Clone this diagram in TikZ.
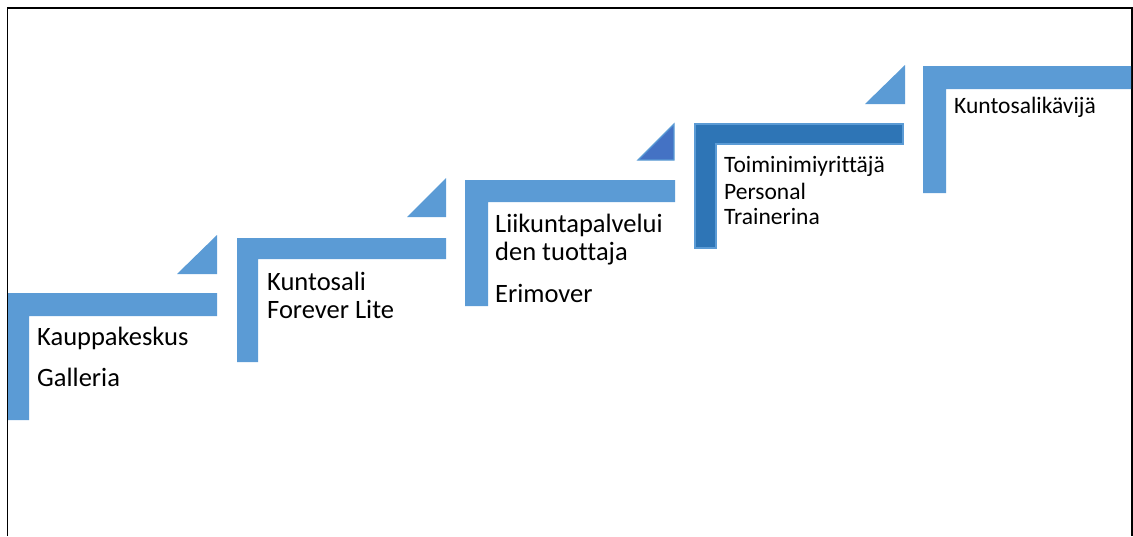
\documentclass[tikz,border=0pt]{standalone}
\usepackage{fontspec}
\setmainfont{Carlito}[Ligatures=NoCommon]
\usepackage{xcolor}
\usetikzlibrary{positioning}
\definecolor{steplight}{HTML}{5B9BD5}
\definecolor{stepdark}{HTML}{2E75B6}
\definecolor{stepmid}{HTML}{4472C4}

\begin{document}
\begin{tikzpicture}[
x=1pt, y=-1pt,
stepbar/.style={fill=steplight},
stepcorner/.style={fill=steplight},
steplabel/.style={
anchor=base west,
inner sep=0pt,
font=\fontsize{26.5}{28}\selectfont
},
smalllabel/.style={
steplabel,
font=\fontsize{23.5}{26}\selectfont
}
]

\useasboundingbox (0,0) rectangle (1133,536);
\draw[line width=1.6pt] (7.5,536) -- (7.5,8) -- (1132,8) -- (1132,536);

% steps
\fill[stepbar] (8,293) -- (217,293) -- (217,316) -- (29,316) -- (29,420) -- (8,420) -- cycle;
\fill[stepcorner] (177,274) -- (217,274) -- (217,235) -- cycle;

\fill[stepbar] (237,238) -- (446,238) -- (446,259) -- (258,259) -- (258,362) -- (237,362) -- cycle;
\fill[stepcorner] (407,217) -- (446,217) -- (446,178) -- cycle;

\fill[stepbar] (465,180) -- (675,180) -- (675,202) -- (488,202) -- (488,306) -- (465,306) -- cycle;
\filldraw[fill=stepmid,draw=steplight,line width=1.2pt] (638,160) -- (674,160) -- (674,124) -- cycle;

\filldraw[fill=stepdark,draw=steplight,line width=1.5pt] (695,124) -- (903,124) -- (903,144) -- (716,144) -- (716,248) -- (695,248) -- cycle;
\fill[stepcorner] (865,104) -- (905,104) -- (905,65) -- cycle;

\fill[stepbar] (923,66) -- (1131,66) -- (1131,89) -- (946,89) -- (946,193) -- (923,193) -- cycle;

% labels
\node[steplabel] (galleria1) at (37,345) {Kauppakeskus};
\node[steplabel] (galleria2) at (37,386) {Galleria};

\node[steplabel] (forever1) at (267,290) {Kuntosali};
\node[steplabel] (forever2) at (267,318) {Forever Lite};

\node[steplabel] (erimover1) at (495,232) {Liikuntapalvelui};
\node[steplabel] (erimover2) at (495,260) {den tuottaja};
\node[steplabel] (erimover3) at (495,302) {Erimover};

\node[smalllabel] (trainer1) at (724,172) {Toiminimiyrittäjä};
\node[smalllabel] (trainer2) at (724,199) {Personal};
\node[smalllabel] (trainer3) at (724,224) {Trainerina};

\node[smalllabel] (visitor) at (954,113) {Kuntosalikävijä};

\end{tikzpicture}
\end{document}
